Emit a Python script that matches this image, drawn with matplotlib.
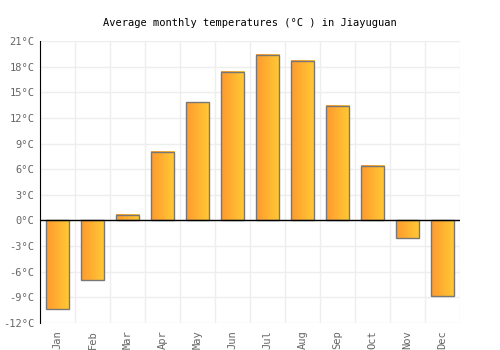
import numpy as np
import matplotlib
matplotlib.use("Agg")
import matplotlib.pyplot as plt
from matplotlib.colors import LinearSegmentedColormap

months = ['Jan', 'Feb', 'Mar', 'Apr', 'May', 'Jun', 'Jul', 'Aug', 'Sep', 'Oct', 'Nov', 'Dec']
temps = [-10.3, -7.0, 0.6, 8.0, 13.8, 17.4, 19.4, 18.7, 13.4, 6.4, -2.0, -8.8]
yticks = list(range(-12, 22, 3))

plt.rcParams['font.family'] = ['DejaVu Sans Mono']

fig = plt.figure(figsize=(5, 3.5), dpi=100)
ax = fig.add_axes([0.08, 0.077, 0.84, 0.806])

x = np.arange(len(months))
width = 0.67
cmap = LinearSegmentedColormap.from_list('orng', ['#ff9a2e', '#ffca35'])
grad = np.linspace(0, 1, 64).reshape(1, -1)

for xi, t in zip(x, temps):
    ax.imshow(grad, cmap=cmap, aspect='auto', extent=[xi - width / 2, xi + width / 2, 0, t],
              origin='lower', zorder=2)
ax.bar(x, temps, width=width, facecolor='none', edgecolor='#777777', linewidth=1, zorder=3)

ax.set_xlim(-0.5, 11.5)
ax.set_ylim(-12, 21)
ax.set_yticks(yticks)
ax.set_yticklabels([f'{v}°C' for v in yticks])
ax.set_xticks(x)
ax.set_xticklabels(months, rotation=90)
ax.set_xticks(np.arange(-0.5, 12, 1), minor=True)
ax.grid(True, which='minor', axis='x', color='#eeeeee', linewidth=1, zorder=0)
ax.grid(True, which='major', axis='y', color='#eeeeee', linewidth=1, zorder=0)
ax.tick_params(axis='both', which='both', length=0, labelsize=7.5, colors='#666666')
ax.tick_params(axis='y', pad=4)
ax.tick_params(axis='x', pad=5)
ax.axhline(0, color='black', linewidth=1, zorder=4)

for s in ['top', 'right', 'bottom']:
    ax.spines[s].set_visible(False)
ax.spines['left'].set_color('black')
ax.spines['left'].set_zorder(5)

ax.set_title('Average monthly temperatures (°C ) in Jiayuguan', fontsize=7.5, pad=11)

fig.savefig('out.png', dpi=100)
